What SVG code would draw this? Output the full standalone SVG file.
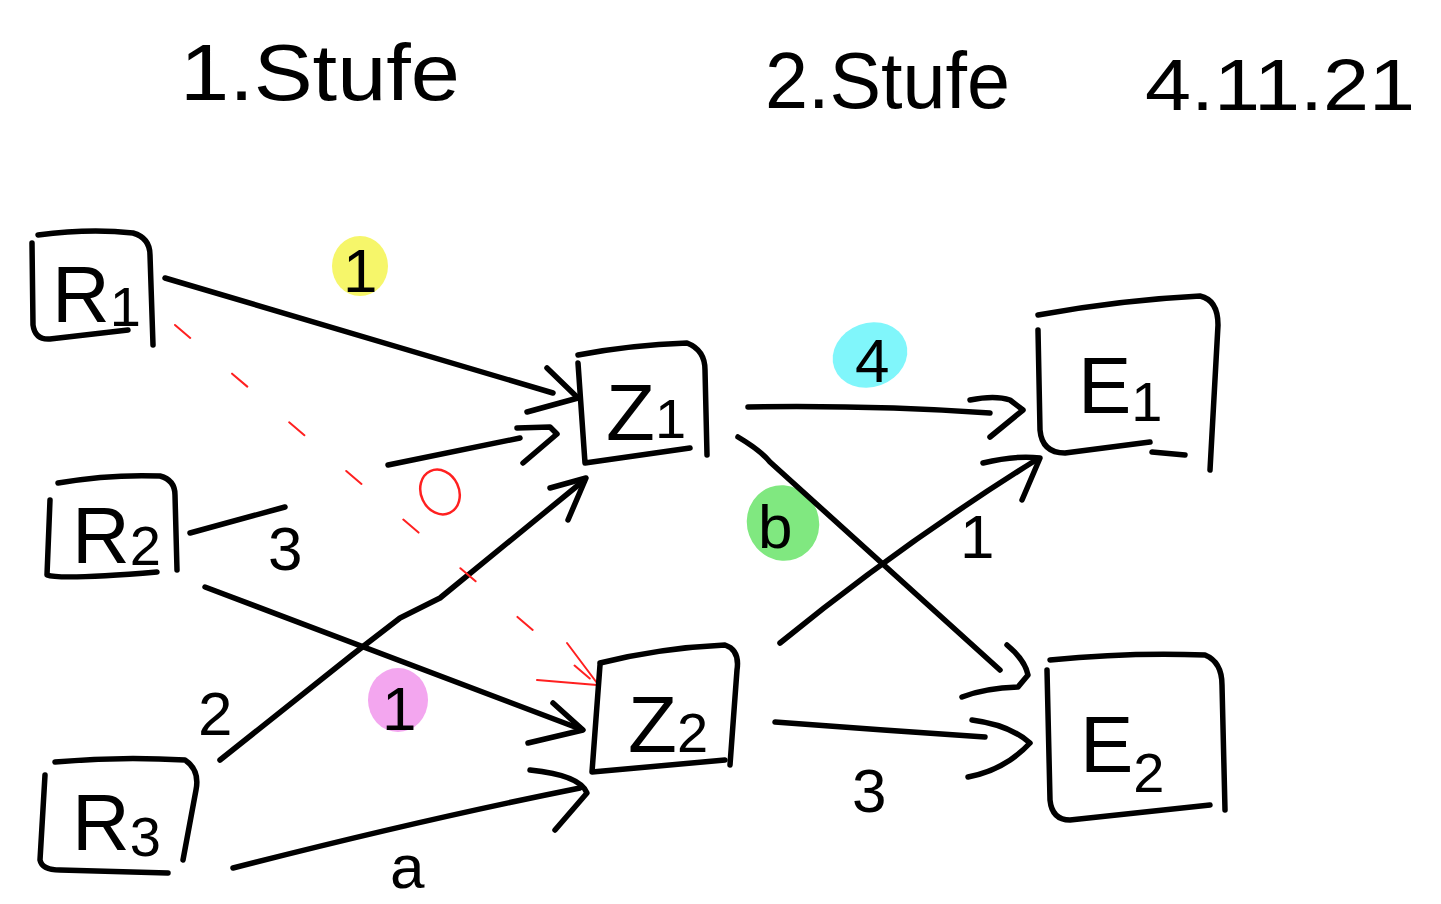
<svg xmlns="http://www.w3.org/2000/svg" width="1441" height="904" viewBox="0 0 1441 904">
<style>
  .ln{fill:none;stroke:#000;stroke-width:5.5;stroke-linecap:round;stroke-linejoin:round}
  .red{fill:none;stroke:#ff2020;stroke-width:2;stroke-linecap:round;stroke-linejoin:round}
  .dash{stroke-dasharray:20 55}
  .t{font-family:"Liberation Sans","DejaVu Sans",sans-serif;fill:#000}
  .node{font-family:"Liberation Sans","DejaVu Sans",sans-serif;font-size:80px;fill:#000}
  .sub{font-size:56px}
  .lbl{font-family:"Liberation Sans","DejaVu Sans",sans-serif;font-size:62px;fill:#000}
</style>
<rect width="1441" height="904" fill="#fff"/>

<g id="titles">
  <text class="t" x="180" y="100" font-size="80" textLength="280" lengthAdjust="spacingAndGlyphs">1.Stufe</text>
  <text class="t" x="765" y="108" font-size="80" textLength="245" lengthAdjust="spacingAndGlyphs">2.Stufe</text>
  <text class="t" x="1145" y="110" font-size="72" textLength="270" lengthAdjust="spacingAndGlyphs">4.11.21</text>
</g>

<g id="highlights">
  <ellipse cx="360" cy="266" rx="28" ry="30" fill="#f6f66a"/>
  <ellipse cx="398" cy="700" rx="30" ry="32" fill="#f3a6ef"/>
  <ellipse cx="870" cy="355" rx="38" ry="32" fill="#80f6fb" transform="rotate(-20 870 355)"/>
  <ellipse cx="783" cy="523" rx="36" ry="38" fill="#80e880" transform="rotate(-20 783 523)"/>
</g>

<g id="connectors">
  <!-- R1 -> Z1 -->
  <path class="ln" d="M165,278 L553,393"/>
  <path class="ln" d="M547,368 L578,398 L527,412"/>
  <!-- R2 -> Z1 (broken around label 3) -->
  <path class="ln" d="M190,533 L285,507"/>
  <path class="ln" d="M388,465 L520,438"/>
  <path class="ln" d="M517,428 L550,427 L557,434 L523,463"/>
  <!-- R3 -> Z1 -->
  <path class="ln" d="M220,760 L352,655 L400,618 L440,598 L582,482"/>
  <path class="ln" d="M550,488 L586,478 L568,520"/>
  <!-- R2 -> Z2 -->
  <path class="ln" d="M205,587 L575,727"/>
  <path class="ln" d="M553,703 L583,730 L528,743"/>
  <!-- R3 -> Z2 -->
  <path class="ln" d="M233,868 Q420,820 580,788"/>
  <path class="ln" d="M530,770 Q580,775 587,793 L555,830"/>
  <!-- R1 -> Z2 dashed red -->
  <path class="red dash" d="M175,325 L595,683"/>
  <path class="red" d="M537,680 L597,685 M567,643 L597,683"/>
  <!-- Z1 -> E1 -->
  <path class="ln" d="M748,407 Q870,405 990,413"/>
  <path class="ln" d="M970,400 Q995,395 1010,400 L1023,410 L990,437"/>
  <!-- Z1 -> E2 -->
  <path class="ln" d="M738,437 Q760,450 770,462 L1000,670"/>
  <path class="ln" d="M1007,645 Q1025,660 1028,675 L1018,687 Q985,688 962,697"/>
  <!-- Z2 -> E1 -->
  <path class="ln" d="M780,643 Q900,545 1036,460"/>
  <path class="ln" d="M983,463 Q1015,455 1040,458 L1022,500"/>
  <!-- Z2 -> E2 -->
  <path class="ln" d="M775,722 Q880,730 985,737"/>
  <path class="ln" d="M972,720 Q1010,725 1030,743 Q1005,770 968,777"/>
</g>

<g id="edge-labels">
  <text class="lbl" x="343" y="292">1</text>
  <text class="lbl" x="268" y="570" font-size="72">3</text>
  <text class="lbl" x="198" y="735" font-size="68">2</text>
  <text class="lbl" x="382" y="730" fill="#7a2a78">1</text>
  <text class="lbl" x="390" y="888" font-size="64">a</text>
  <text class="lbl" x="855" y="382" fill="#107878">4</text>
  <text class="lbl" x="758" y="548" fill="#0e7a10">b</text>
  <text class="lbl" x="960" y="558">1</text>
  <text class="lbl" x="852" y="812" font-size="70">3</text>
  <ellipse cx="440" cy="492" rx="19" ry="23" fill="none" stroke="#ff2020" stroke-width="2.5" transform="rotate(-25 440 492)"/>
</g>

<g id="R1">
  <path class="ln" d="M38,235 Q90,228 133,233 Q150,238 150,255 L153,345"/>
  <path class="ln" d="M32,243 L33,325 Q35,340 50,339 L128,330"/>
  <text class="node" x="52" y="322">R<tspan class="sub" dy="4">1</tspan></text>
</g>

<g id="R2">
  <path class="ln" d="M58,483 Q110,474 160,476 Q175,480 175,495 L177,570"/>
  <path class="ln" d="M50,500 L47,575 Q60,580 157,572"/>
  <text class="node" x="72" y="563" font-size="76">R<tspan class="sub" dy="2">2</tspan></text>
</g>

<g id="R3">
  <path class="ln" d="M55,762 Q120,756 185,760 Q200,770 196,790 L183,860"/>
  <path class="ln" d="M45,775 L40,860 Q42,870 60,870 L168,873"/>
  <text class="node" x="72" y="850" font-size="76">R<tspan class="sub" dy="6">3</tspan></text>
</g>

<g id="Z1">
  <path class="ln" d="M578,355 Q630,345 687,343 Q705,350 705,370 L707,455"/>
  <path class="ln" d="M578,363 L585,463 L690,448"/>
  <text class="node" x="606" y="440">Z<tspan class="sub" dy="-2">1</tspan></text>
</g>

<g id="Z2">
  <path class="ln" d="M600,663 Q660,648 725,645 Q740,650 737,670 L730,765"/>
  <path class="ln" d="M600,665 L592,772 L725,760"/>
  <text class="node" x="628" y="752">Z<tspan class="sub">2</tspan></text>
</g>

<g id="E1">
  <path class="ln" d="M1038,315 Q1120,300 1200,296 Q1218,300 1218,325 L1210,470"/>
  <path class="ln" d="M1038,330 L1040,430 Q1042,453 1065,453 L1150,442"/>
  <path class="ln" d="M1152,452 L1185,455"/>
  <text class="node" x="1078" y="413" font-size="90">E<tspan class="sub" dy="8">1</tspan></text>
</g>

<g id="E2">
  <path class="ln" d="M1050,660 Q1130,652 1205,655 Q1222,662 1222,685 L1225,810"/>
  <path class="ln" d="M1047,670 L1050,800 Q1052,820 1070,820 L1210,805"/>
  <text class="node" x="1080" y="772" font-size="90">E<tspan class="sub" dy="20">2</tspan></text>
</g>
</svg>
